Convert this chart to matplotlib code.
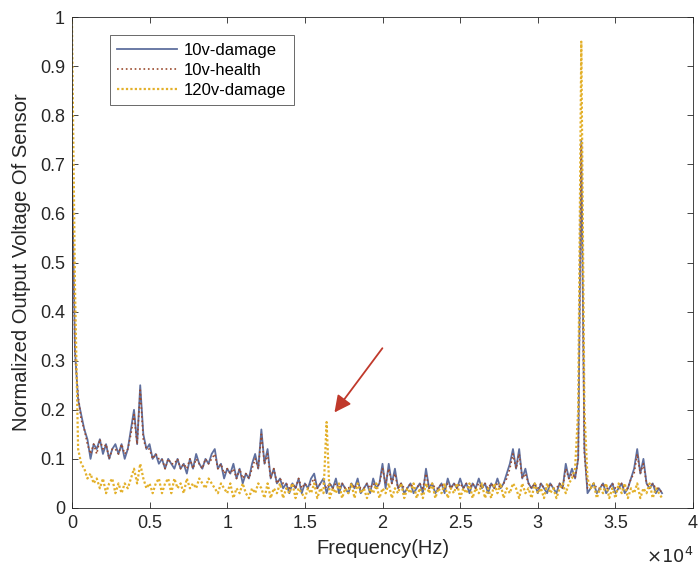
import numpy as np
import matplotlib
matplotlib.use("Agg")
import matplotlib.pyplot as plt
from matplotlib.ticker import FuncFormatter, MultipleLocator

plt.rcParams['font.family'] = ['Liberation Sans', 'DejaVu Sans']

# frequency grid, one sample every 200 Hz from 0 to 38 kHz
freq = np.arange(0, 38001, 200)

# 10 V, damaged specimen
v10_damage = [
    0.70, 0.32, 0.22, 0.19, 0.16, 0.14, 0.10, 0.13, 0.12, 0.14,
    0.11, 0.13, 0.10, 0.12, 0.13, 0.11, 0.13, 0.10, 0.12, 0.16,
    0.20, 0.13, 0.25, 0.15, 0.12, 0.13, 0.10, 0.11, 0.09, 0.10,
    0.08, 0.10, 0.09, 0.08, 0.10, 0.08, 0.09, 0.07, 0.10, 0.08,
    0.11, 0.09, 0.08, 0.10, 0.09, 0.11, 0.12, 0.08, 0.09, 0.06,
    0.08, 0.07, 0.09, 0.06, 0.08, 0.05, 0.07, 0.06, 0.09, 0.11,
    0.08, 0.16, 0.09, 0.12, 0.06, 0.08, 0.05, 0.06, 0.04, 0.05,
    0.03, 0.05, 0.04, 0.06, 0.03, 0.05, 0.04, 0.06, 0.07, 0.04,
    0.05, 0.06, 0.03, 0.05, 0.04, 0.06, 0.03, 0.05, 0.04, 0.03,
    0.05, 0.04, 0.06, 0.03, 0.04, 0.05, 0.03, 0.06, 0.04, 0.05,
    0.09, 0.04, 0.09, 0.05, 0.08, 0.04, 0.05, 0.03, 0.04, 0.05,
    0.03, 0.04, 0.05, 0.03, 0.08, 0.04, 0.05, 0.03, 0.04, 0.05,
    0.03, 0.06, 0.04, 0.05, 0.04, 0.06, 0.04, 0.05, 0.03, 0.05,
    0.04, 0.06, 0.04, 0.05, 0.03, 0.05, 0.04, 0.06, 0.04, 0.05,
    0.07, 0.09, 0.12, 0.08, 0.12, 0.06, 0.08, 0.05, 0.04, 0.05,
    0.03, 0.05, 0.04, 0.03, 0.05, 0.04, 0.03, 0.05, 0.04, 0.09,
    0.06, 0.08, 0.06, 0.10, 0.75, 0.12, 0.03, 0.04, 0.05, 0.03,
    0.04, 0.05, 0.03, 0.04, 0.05, 0.03, 0.04, 0.05, 0.03, 0.04,
    0.06, 0.08, 0.12, 0.07, 0.10, 0.05, 0.04, 0.05, 0.03, 0.04,
    0.03,
]

# 10 V, healthy specimen (almost on top of the damaged one)
v10_health = [
    0.69, 0.31, 0.23, 0.18, 0.16, 0.13, 0.11, 0.13, 0.11, 0.14,
    0.12, 0.13, 0.10, 0.12, 0.12, 0.11, 0.13, 0.11, 0.12, 0.15,
    0.19, 0.13, 0.24, 0.14, 0.12, 0.12, 0.10, 0.11, 0.10, 0.10,
    0.08, 0.10, 0.09, 0.09, 0.10, 0.08, 0.09, 0.08, 0.10, 0.08,
    0.10, 0.09, 0.08, 0.10, 0.09, 0.10, 0.11, 0.08, 0.09, 0.07,
    0.08, 0.07, 0.08, 0.06, 0.08, 0.06, 0.07, 0.06, 0.08, 0.10,
    0.08, 0.15, 0.09, 0.11, 0.06, 0.08, 0.05, 0.06, 0.05, 0.05,
    0.04, 0.05, 0.04, 0.06, 0.04, 0.05, 0.04, 0.05, 0.06, 0.04,
    0.05, 0.05, 0.04, 0.05, 0.04, 0.05, 0.04, 0.05, 0.04, 0.04,
    0.05, 0.04, 0.05, 0.04, 0.04, 0.05, 0.04, 0.05, 0.04, 0.05,
    0.08, 0.05, 0.08, 0.05, 0.07, 0.04, 0.05, 0.04, 0.04, 0.05,
    0.04, 0.04, 0.05, 0.04, 0.07, 0.04, 0.05, 0.04, 0.04, 0.05,
    0.04, 0.05, 0.04, 0.05, 0.04, 0.05, 0.04, 0.05, 0.04, 0.05,
    0.04, 0.05, 0.04, 0.05, 0.04, 0.05, 0.04, 0.05, 0.04, 0.05,
    0.06, 0.08, 0.11, 0.08, 0.11, 0.06, 0.07, 0.05, 0.04, 0.05,
    0.04, 0.05, 0.04, 0.04, 0.05, 0.04, 0.04, 0.05, 0.04, 0.08,
    0.06, 0.07, 0.06, 0.10, 0.74, 0.11, 0.04, 0.04, 0.05, 0.04,
    0.04, 0.05, 0.04, 0.04, 0.05, 0.04, 0.04, 0.05, 0.04, 0.04,
    0.06, 0.07, 0.11, 0.07, 0.09, 0.05, 0.04, 0.05, 0.04, 0.04,
    0.03,
]

# 120 V, damaged specimen
v120_damage = [
    1.00, 0.45, 0.12, 0.09, 0.08, 0.06, 0.07, 0.05, 0.06, 0.04,
    0.06, 0.03, 0.05, 0.06, 0.03, 0.05, 0.03, 0.05, 0.04, 0.06,
    0.08, 0.05, 0.09, 0.06, 0.04, 0.05, 0.03, 0.05, 0.06, 0.03,
    0.05, 0.06, 0.03, 0.06, 0.04, 0.05, 0.03, 0.06, 0.04, 0.05,
    0.04, 0.06, 0.05, 0.04, 0.06, 0.05, 0.04, 0.03, 0.05, 0.04,
    0.03, 0.05, 0.02, 0.04, 0.03, 0.05, 0.03, 0.02, 0.04, 0.03,
    0.05, 0.04, 0.02, 0.05, 0.02, 0.04, 0.03, 0.05, 0.02, 0.04,
    0.03, 0.05, 0.02, 0.04, 0.03, 0.02, 0.04, 0.03, 0.05, 0.02,
    0.04, 0.03, 0.175, 0.02, 0.04, 0.03, 0.05, 0.02, 0.04, 0.03,
    0.05, 0.02, 0.05, 0.03, 0.04, 0.02, 0.04, 0.03, 0.05, 0.02,
    0.04, 0.03, 0.05, 0.02, 0.04, 0.03, 0.05, 0.02, 0.04, 0.03,
    0.05, 0.02, 0.04, 0.02, 0.05, 0.03, 0.05, 0.02, 0.04, 0.03,
    0.05, 0.02, 0.04, 0.03, 0.05, 0.02, 0.04, 0.03, 0.05, 0.02,
    0.04, 0.03, 0.05, 0.02, 0.04, 0.02, 0.05, 0.03, 0.05, 0.02,
    0.04, 0.03, 0.05, 0.04, 0.02, 0.05, 0.03, 0.04, 0.02, 0.05,
    0.03, 0.04, 0.02, 0.05, 0.03, 0.04, 0.02, 0.04, 0.05, 0.03,
    0.05, 0.06, 0.08, 0.20, 0.95, 0.20, 0.06, 0.04, 0.05, 0.02,
    0.04, 0.03, 0.05, 0.02, 0.04, 0.02, 0.05, 0.03, 0.05, 0.02,
    0.04, 0.03, 0.05, 0.02, 0.04, 0.03, 0.05, 0.02, 0.04, 0.03,
    0.02,
]

labels = ["10v-damage", "10v-health", "120v-damage"]

fig = plt.figure(figsize=(6.98, 5.72), dpi=100)
ax = fig.add_axes([0.103, 0.112, 0.890, 0.858])

ax.plot(freq, v10_damage, color="#5f6f9e", lw=1.3, label=labels[0])
ax.plot(freq, v10_health, color="#9a4a2e", lw=1.2, ls=":", label=labels[1])
ax.plot(freq, v120_damage, color="#e3b02a", lw=1.6, ls=(0, (1, 1)),
        label=labels[2])

ax.set_xlim(0, 40000)
ax.set_ylim(0, 1)
ax.xaxis.set_major_locator(MultipleLocator(5000))
ax.yaxis.set_major_locator(MultipleLocator(0.1))
ax.xaxis.set_major_formatter(FuncFormatter(lambda v, p: f"{v / 1e4:g}"))
ax.yaxis.set_major_formatter(FuncFormatter(lambda v, p: f"{v:g}"))
ax.tick_params(direction="in", top=True, right=True, length=4, width=0.6,
               colors="#262626", labelsize=13, pad=5)
for s in ax.spines.values():
    s.set_color("#262626")
    s.set_linewidth(0.6)

ax.set_xlabel("Frequency(Hz)", fontsize=14.5, color="#262626", labelpad=5)
ax.set_ylabel("Normalized Output Voltage Of Sensor", fontsize=14.5,
              color="#262626", labelpad=6)
ax.text(1.0, -0.1, r"$\times10^{4}$", transform=ax.transAxes,
        ha="right", va="center", fontsize=13, color="#262626")

leg = ax.legend(loc="upper left", bbox_to_anchor=(0.061, 0.963), fontsize=12,
                frameon=True, fancybox=False, edgecolor="#262626",
                handlelength=3.6, borderpad=0.45, labelspacing=0.3,
                handletextpad=0.4, borderaxespad=0)
leg.get_frame().set_linewidth(0.6)

# arrow pointing to the 120 V peak
ax.annotate("", xy=(16800, 0.19), xytext=(20100, 0.33),
            arrowprops=dict(arrowstyle="-|>,head_length=1.0,head_width=0.5",
                            color="#c0392b", lw=1.3))

fig.savefig("out.png", dpi=100)
